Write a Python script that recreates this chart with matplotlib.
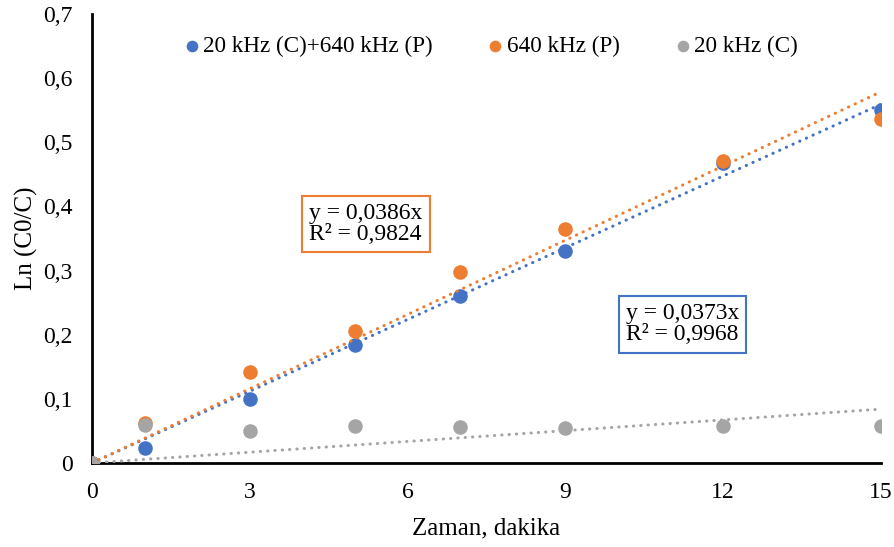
import matplotlib
matplotlib.use("Agg")
import numpy as np
import matplotlib.pyplot as plt
from matplotlib.ticker import FuncFormatter

# sampling times (min) and ln(C0/C) per treatment
zaman = [0, 1, 3, 5, 7, 9, 12, 15]
kombine = [0, 0.024, 0.099, 0.184, 0.260, 0.331, 0.468, 0.550]   # 20 kHz (C)+640 kHz (P)
yuksek = [0, 0.062, 0.142, 0.206, 0.298, 0.365, 0.471, 0.537]    # 640 kHz (P)
dusuk = [0, 0.059, 0.050, 0.058, 0.056, 0.055, 0.057, 0.057]     # 20 kHz (C)

seri_adlari = ["20 kHz (C)+640 kHz (P)", "640 kHz (P)", "20 kHz (C)"]
renkler = ["#4472C4", "#ED7D31", "#A5A5A5"]
egimler = [0.0373, 0.0386, 0.0056]          # trendlines forced through origin
r2 = [0.9968, 0.9824, None]

plt.rcParams["font.family"] = ["Liberation Serif", "DejaVu Serif"]

fig = plt.figure(figsize=(8.95, 5.47), dpi=100)
ax = fig.add_axes([0.1028, 0.1536, 0.8816, 0.8206])

for y, c, lab in zip([kombine, yuksek, dusuk], renkler, seri_adlari):
    ax.scatter(zaman, y, s=110, color=c, label=lab, zorder=3, linewidths=0)

xs = np.array([0, 15])
for m, c in zip(egimler, renkler):
    ax.plot(xs, m * xs, color=c, lw=2.2, linestyle=(0, (0.1, 2.3)),
            dash_capstyle="round", zorder=4)

ax.set_xlim(0, 15)
ax.set_ylim(0, 0.7)
ax.set_xticks([0, 3, 6, 9, 12, 15])
ax.set_yticks(np.arange(0, 0.71, 0.1))
ax.yaxis.set_major_formatter(FuncFormatter(lambda v, p: "0" if abs(v) < 1e-9 else f"{v:.1f}".replace(".", ",")))
ax.tick_params(length=0, labelsize=17)
ax.tick_params(axis="y", pad=14)
ax.tick_params(axis="x", pad=14)
for s in ["top", "right"]:
    ax.spines[s].set_visible(False)
for s in ["left", "bottom"]:
    ax.spines[s].set_linewidth(2)
ax.set_xlabel("Zaman, dakika", fontsize=18, labelpad=10)
ax.set_ylabel("Ln (C0/C)", fontsize=18, labelpad=4)

ax.legend(loc="upper left", bbox_to_anchor=(180 / 895, 0.934), bbox_transform=fig.transFigure,
          ncol=3, frameon=False, fontsize=16.7, handlelength=1.0, handletextpad=0.0,
          columnspacing=2.2, markerscale=0.8, borderpad=0, borderaxespad=0)

# equation boxes
def kutu(x, y, m, r, c):
    t = f"y = {m:.4f}x\nR² = {r:.4f}".replace("0.", "0,")
    ax.text(x, y, t, fontsize=17, color="black", va="center", ha="left",
            linespacing=1.0,
            bbox=dict(boxstyle="square,pad=0.3", fc="white", ec=c, lw=1.5))

kutu(4.13, 0.373, egimler[1], r2[1], renkler[1])
kutu(10.15, 0.216, egimler[0], r2[0], renkler[0])

fig.savefig("out.png", dpi=100)
